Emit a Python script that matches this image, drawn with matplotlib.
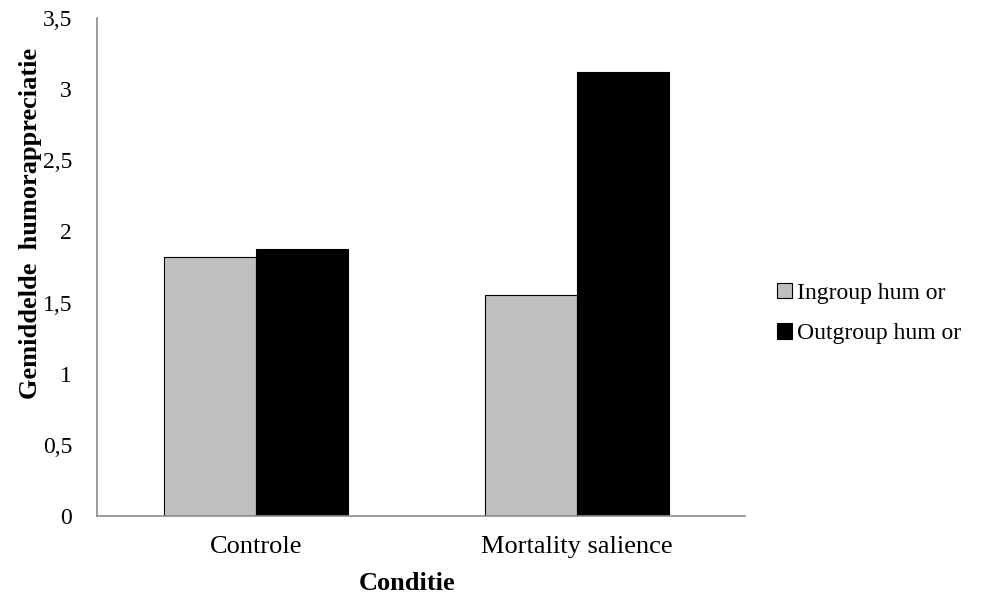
import numpy as np
import matplotlib.pyplot as plt
from matplotlib.ticker import FuncFormatter

plt.rcParams["font.family"] = ["Liberation Serif", "DejaVu Serif"]

conditions = ["Controle", "Mortality salience"]
ingroup = [1.82, 1.55]
outgroup = [1.88, 3.12]
series_labels = ["Ingroup hum or", "Outgroup hum or"]
yticks = [0, 0.5, 1, 1.5, 2, 2.5, 3, 3.5]

fig = plt.figure(figsize=(9.82, 5.98), dpi=100)
ax = fig.add_axes([0.0988, 0.137, 0.66, 0.833])

x = np.arange(len(conditions))
w = 0.286
ax.bar(x - w / 2, ingroup, w, color="#bfbfbf", edgecolor="black", linewidth=0.8,
       label=series_labels[0])
ax.bar(x + w / 2, outgroup, w, color="black", edgecolor="black", linewidth=0.8,
       label=series_labels[1])

ax.set_xlim(-0.495, 1.523)
ax.set_ylim(0, 3.5)
ax.set_yticks(yticks)
ax.yaxis.set_major_formatter(FuncFormatter(lambda v, _: f"{v:g}".replace(".", ",")))
ax.set_xticks(x)
ax.set_xticklabels(conditions, fontsize=19)
ax.tick_params(axis="both", length=0)
ax.tick_params(axis="y", pad=18, labelsize=17)
ax.tick_params(axis="x", pad=14)

for side in ["top", "right"]:
    ax.spines[side].set_visible(False)
for side in ["left", "bottom"]:
    ax.spines[side].set_color("#8c8c8c")
    ax.spines[side].set_linewidth(1.2)

fig.text(0.415, 0.025, "Conditie", ha="center", va="center",
         fontsize=19, fontweight="bold")
fig.text(0.031, 0.627, "Gemiddelde  humorappreciatie", ha="center", va="center",
         rotation=90, fontsize=19, fontweight="bold")

fig.legend(loc="center left", bbox_to_anchor=(0.791, 0.476), frameon=False,
           fontsize=17, handlelength=0.65, handleheight=0.65, handletextpad=0.2,
           labelspacing=0.8, borderpad=0, borderaxespad=0)

fig.savefig("out.png", dpi=100)
